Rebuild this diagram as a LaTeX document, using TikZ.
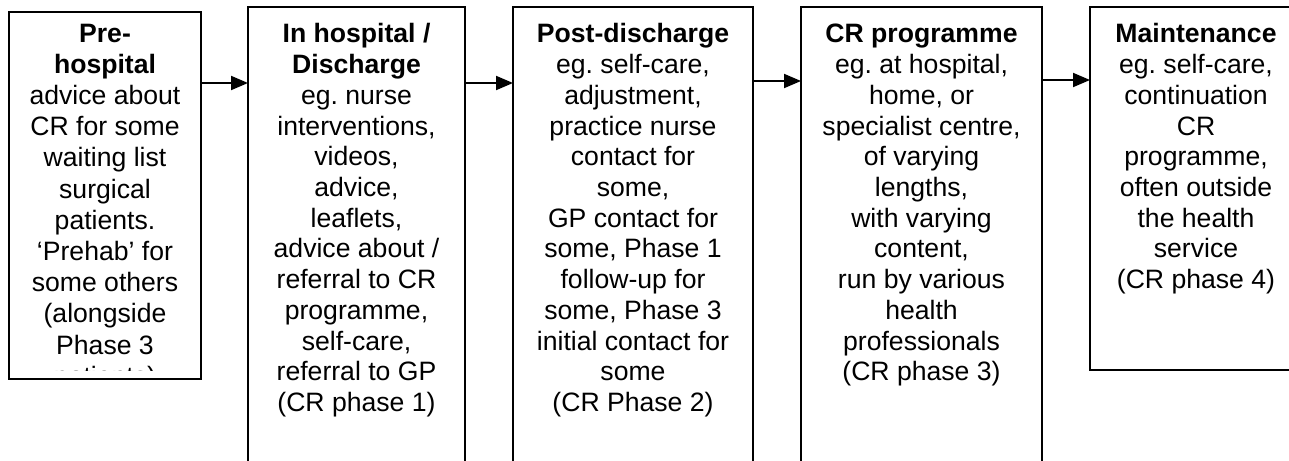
\documentclass[tikz,border=0pt]{standalone}
\usepackage{fontspec}
\setmainfont{Liberation Sans}
\usetikzlibrary{arrows.meta}
\newcommand{\phasetext}[2]{\parbox[t]{300pt}{\frenchspacing\centering\fontsize{26.6}{#1}\selectfont #2}}
\begin{document}
\begin{tikzpicture}[x=1pt,y=-1pt,
  boxstyle/.style={draw=black, line width=2pt, inner sep=0pt, outer sep=0pt, rectangle, anchor=north west},
  txt/.style={anchor=base, inner sep=0pt, outer sep=0pt},
  arr/.style={line width=2pt, -{Triangle[length=17pt,width=14pt]}}]
\useasboundingbox (0,0) rectangle (1289,460);
\clip (0,0) rectangle (1289,460);
% boxes
\node[boxstyle, minimum width=192pt, minimum height=367pt] (b1) at (9,12) {};
\node[boxstyle, minimum width=217pt, minimum height=480pt] (b2) at (248,7) {};
\node[boxstyle, minimum width=240pt, minimum height=480pt] (b3) at (513,7) {};
\node[boxstyle, minimum width=241pt, minimum height=480pt] (b4) at (801,7) {};
\node[boxstyle, minimum width=212pt, minimum height=363pt] (b5) at (1090,7) {};
% texts
\begin{scope}
\clip (9,12) rectangle (201,370);
\node[txt] (t1) at (105,42) {\phasetext{31.2pt}{\textbf{Pre-}\\\textbf{hospital}\\advice about\\CR for some\\waiting list\\surgical\\patients.\\‘Prehab’ for\\some others\\(alongside\\Phase 3\\patients)}};
\end{scope}
\node[txt] (t2) at (356.5,43) {\phasetext{30.7pt}{\textbf{In hospital /}\\\textbf{Discharge}\\eg. nurse\\interventions,\\videos,\\advice,\\leaflets,\\advice about /\\referral to CR\\programme,\\self-care,\\referral to GP\\(CR phase 1)}};
\node[txt] (t3) at (633,43) {\phasetext{30.7pt}{\textbf{Post-discharge}\\eg. self-care,\\adjustment,\\practice nurse\\contact for\\some,\\GP contact for\\some, Phase 1\\follow-up for\\some, Phase 3\\initial contact for\\some\\(CR Phase 2)}};
\node[txt] (t4) at (921.5,43) {\phasetext{30.7pt}{\textbf{CR programme}\\eg. at hospital,\\home, or\\specialist centre,\\of varying\\lengths,\\with varying\\content,\\run by various\\health\\professionals\\(CR phase 3)}};
\node[txt] (t5) at (1196,43) {\phasetext{30.7pt}{\textbf{Maintenance}\\eg. self-care,\\continuation\\CR\\programme,\\often outside\\the health\\service\\(CR phase 4)}};
% arrows
\coordinate (y1) at (0,83);
\coordinate (y2) at (0,83);
\coordinate (y3) at (0,81);
\coordinate (y4) at (0,80);
\draw[arr] (b1.east |- y1) -- (b2.west |- y1);
\draw[arr] (b2.east |- y2) -- (b3.west |- y2);
\draw[arr] (b3.east |- y3) -- (b4.west |- y3);
\draw[arr] (b4.east |- y4) -- (b5.west |- y4);
\end{tikzpicture}
\end{document}
